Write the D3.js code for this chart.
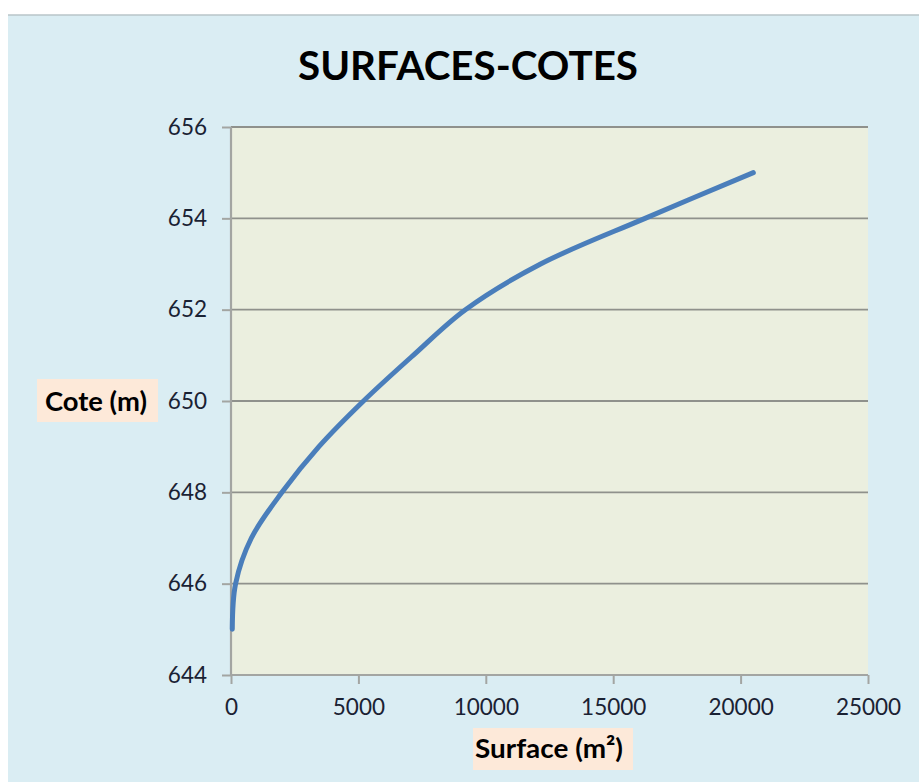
<!DOCTYPE html>
<html>
<head>
<meta charset="utf-8">
<script src="https://cdn.jsdelivr.net/npm/d3@7"></script>
<style>
  html, body { margin: 0; padding: 0; background: #ffffff; }
  svg { display: block; font-family: Lato, "Open Sans", sans-serif; }
</style>
</head>
<body>
<svg id="chart" width="919" height="782"></svg>
<script>
// Surface (m²) reached at each elevation (m)
const cotes = [645, 646, 647, 648, 649, 650, 651, 652, 653, 654, 655];
const surfaces = [50, 180, 800, 2000, 3450, 5200, 7150, 9200, 12150, 16250, 20500];

const xTicks = [0, 5000, 10000, 15000, 20000, 25000];
const yTicks = [644, 646, 648, 650, 652, 654, 656];

const titleText = "SURFACES-COTES";
const xLabel = "Surface (m²)";
const yLabel = "Cote (m)";

const svg = d3.select("#chart");

// Chart area background
svg.append("rect").attr("x", 8).attr("y", 15).attr("width", 911).attr("height", 767)
  .attr("fill", "#daedf3");
svg.append("line").attr("x1", 8).attr("x2", 919).attr("y1", 15).attr("y2", 15)
  .attr("stroke", "#b8c4c8").attr("stroke-width", 1.5);

const plot = { left: 231, right: 868, top: 127, bottom: 675 };

const x = d3.scaleLinear().domain([0, 25000]).range([plot.left, plot.right]);
const y = d3.scaleLinear().domain([644, 656]).range([plot.bottom, plot.top]);

// Plot area
svg.append("rect")
  .attr("x", plot.left).attr("y", plot.top)
  .attr("width", plot.right - plot.left).attr("height", plot.bottom - plot.top)
  .attr("fill", "#ebefdf");

// Horizontal gridlines
svg.append("g").selectAll("line").data(yTicks.filter(d => d !== 644)).join("line")
  .attr("x1", plot.left).attr("x2", plot.right)
  .attr("y1", d => y(d)).attr("y2", d => y(d))
  .attr("stroke", "#8f918c").attr("stroke-width", 1.8);

// Y axis
const yAxis = svg.append("g").attr("transform", `translate(${plot.left},0)`)
  .call(d3.axisLeft(y).tickValues(yTicks).tickSize(9).tickPadding(15).tickFormat(d3.format("d")));
// X axis
const xAxis = svg.append("g").attr("transform", `translate(0,${plot.bottom})`)
  .call(d3.axisBottom(x).tickValues(xTicks).tickSize(9).tickPadding(15).tickFormat(d3.format("d")));

[yAxis, xAxis].forEach(a => {
  a.select(".domain").attr("stroke", "#a3a5a2").attr("stroke-width", 2.2);
  a.selectAll(".tick line").attr("stroke", "#a3a5a2").attr("stroke-width", 2);
  a.selectAll(".tick text").attr("fill", "#1a2233").attr("font-size", 22.5)
    .attr("font-family", "Lato, 'Open Sans', sans-serif");
});
// keep the axis domain flat (no outer tick hooks)
yAxis.select(".domain").attr("d", `M0,${plot.top}V${plot.bottom}`);
xAxis.select(".domain").attr("d", `M${plot.left},0H${plot.right}`);

// Elevation-area curve
const line = d3.line()
  .x((d, i) => x(surfaces[i]))
  .y(d => y(d))
  .curve(d3.curveCatmullRom.alpha(0.5));

svg.append("path").datum(cotes)
  .attr("d", line)
  .attr("fill", "none")
  .attr("stroke", "#4a7ebb")
  .attr("stroke-width", 5)
  .attr("stroke-linecap", "round")
  .attr("stroke-linejoin", "round");

// Title
svg.append("text")
  .attr("x", 468).attr("y", 80)
  .attr("text-anchor", "middle")
  .attr("font-size", 40).attr("font-weight", "bold")
  .attr("fill", "#000")
  .attr("textLength", 340).attr("lengthAdjust", "spacingAndGlyphs")
  .text(titleText);

// Axis titles with shaded boxes
svg.append("rect").attr("x", 37).attr("y", 379).attr("width", 121).attr("height", 43)
  .attr("fill", "#fde9d9");
svg.append("text").attr("x", 96).attr("y", 411).attr("text-anchor", "middle")
  .attr("font-size", 27).attr("font-weight", "bold").attr("fill", "#000")
  .attr("textLength", 102).attr("lengthAdjust", "spacingAndGlyphs")
  .text(yLabel);

svg.append("rect").attr("x", 473).attr("y", 728).attr("width", 160).attr("height", 42)
  .attr("fill", "#fde9d9");
svg.append("text").attr("x", 549).attr("y", 758).attr("text-anchor", "middle")
  .attr("font-size", 27).attr("font-weight", "bold").attr("fill", "#000")
  .attr("textLength", 148).attr("lengthAdjust", "spacingAndGlyphs")
  .text(xLabel);
</script>
</body>
</html>
